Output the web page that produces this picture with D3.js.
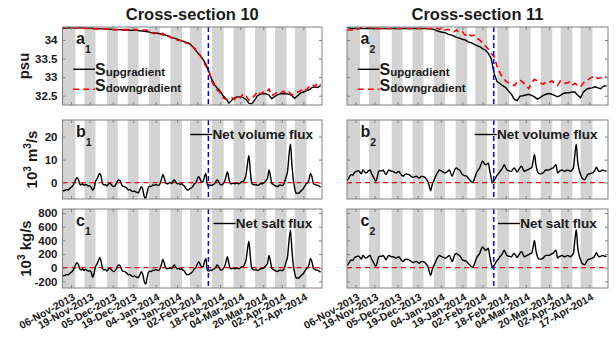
<!DOCTYPE html>
<meta charset="utf-8">
<title>Cross-section 10 / 11</title>
<body style="margin:0;background:#fff">
<svg width=616 height=347></svg>
<script src="https://d3js.org/d3.v7.min.js"></script>
<script>
    // ---------------- data (time axis starts 31-Oct-2013) ----------------
    const startDay = "2013-10-31 00:00";
    const endDay = "2014-04-30 00:00";
    const eventDay = "2014-02-09 18:00";

    const tickDays = ["2013-11-06", "2013-11-19", "2013-12-05", "2013-12-19", "2014-01-04", "2014-01-19",
        "2014-02-02", "2014-02-18", "2014-03-04", "2014-03-20", "2014-04-02", "2014-04-17"];

    // grey shading (spring tides)
    const bandStart = ["2013-10-31 00:00", "2013-11-15 08:00", "2013-12-01 00:00", "2013-12-15 12:00",
        "2013-12-30 08:00", "2014-01-14 08:00", "2014-01-28 00:00", "2014-02-12 08:00", "2014-02-27 08:00",
        "2014-03-14 08:00", "2014-03-28 05:00", "2014-04-11 00:00"];
    const bandEnd = ["2013-11-09 00:00", "2013-11-23 00:00", "2013-12-08 14:00", "2013-12-23 00:00",
        "2014-01-07 00:00", "2014-01-22 08:00", "2014-02-05 05:00", "2014-02-20 10:00", "2014-03-07 10:00",
        "2014-03-22 08:00", "2014-04-05 08:00", "2014-04-19 05:00"];

    const salTicks = [32.5, 33, 33.5, 34];
    const volTicks = [0, 10, 20];
    const saltTicks = [-200, 0, 200, 400, 600, 800];

    // salinity, one value every 2 days (psu)
    const sUp10 = [34.31,34.32,34.33,34.33,34.33,34.33,34.33,34.33,34.32,34.32,
        34.32,34.31,34.31,34.30,34.30,34.30,34.29,34.29,34.28,34.28,
        34.28,34.27,34.27,34.27,34.26,34.26,34.26,34.25,34.24,34.23,
        34.22,34.20,34.19,34.18,34.17,34.14,34.13,34.10,34.07,34.05,
        34.02,33.99,33.97,33.94,33.92,33.85,33.77,33.67,33.58,33.48,
        33.35,33.15,32.95,32.80,32.70,32.62,32.50,32.42,32.30,32.38,
        32.44,32.47,32.47,32.45,32.40,32.30,32.28,32.38,32.50,32.54,
        32.56,32.55,32.52,32.42,32.48,32.52,32.55,32.56,32.55,32.54,
        32.50,32.43,32.50,32.57,32.60,32.63,32.66,32.72,32.74,32.72,
        32.77];
    const sDown10 = [34.33,34.34,34.34,34.33,34.33,34.32,34.32,34.32,34.31,34.31,
        34.31,34.30,34.30,34.30,34.30,34.29,34.29,34.28,34.28,34.28,
        34.28,34.28,34.28,34.28,34.28,34.28,34.28,34.27,34.27,34.27,
        34.25,34.20,34.17,34.20,34.13,34.18,34.10,34.12,34.05,34.08,
        34.00,33.98,34.02,33.92,33.90,33.82,33.78,33.65,33.60,33.45,
        33.30,33.20,32.90,32.75,32.65,32.58,32.45,32.40,32.42,32.45,
        32.40,32.50,32.45,32.55,32.50,32.38,32.45,32.50,32.62,32.55,
        32.60,32.58,32.68,32.50,32.55,32.60,32.58,32.62,32.55,32.60,
        32.52,32.55,32.60,32.63,32.70,32.65,32.75,32.80,32.75,32.85,
        32.80];
    const sUp11 = [34.35,34.32,34.31,34.31,34.31,34.31,34.31,34.31,34.31,34.31,
        34.31,34.31,34.31,34.31,34.31,34.31,34.31,34.31,34.31,34.31,
        34.31,34.31,34.31,34.31,34.31,34.31,34.31,34.31,34.30,34.30,
        34.29,34.25,34.23,34.21,34.20,34.16,34.14,34.11,34.07,34.05,
        34.02,34.00,33.95,33.93,33.89,33.85,33.82,33.77,33.73,33.64,
        33.50,33.10,32.88,32.83,32.77,32.72,32.63,32.54,32.40,32.37,
        32.49,32.50,32.52,32.54,32.51,32.47,32.41,32.45,32.51,32.54,
        32.56,32.54,32.51,32.47,32.51,32.56,32.58,32.58,32.60,32.60,
        32.51,32.45,32.60,32.67,32.70,32.71,32.74,32.71,32.69,32.76,
        32.77];
    const sDown11 = [34.27,34.27,34.27,34.27,34.30,34.35,34.35,34.35,34.33,34.31,
        34.31,34.31,34.31,34.31,34.31,34.31,34.31,34.31,34.31,34.31,
        34.31,34.31,34.31,34.31,34.31,34.31,34.31,34.31,34.31,34.31,
        34.31,34.32,34.29,34.34,34.27,34.29,34.25,34.22,34.27,34.20,
        34.22,34.13,34.18,34.11,34.13,34.05,34.00,33.91,33.84,33.75,
        33.64,33.55,33.30,33.12,32.99,32.90,32.85,32.81,32.77,32.87,
        32.92,32.86,32.78,32.69,32.85,32.94,32.90,32.85,32.81,32.87,
        32.85,32.90,32.83,32.78,32.90,32.86,32.83,32.87,32.78,32.83,
        32.78,32.74,32.85,32.90,32.96,33.00,33.03,32.96,32.99,33.03,
        32.99];

    // net volume flux, daily (10^3 m^3/s)
    const vol10 = [-3.6,-3.5,-3.3,-3.0,-3.2,-2.5,-2.0,-1.5,-0.5,1.0,
        2.2,1.5,-0.5,-1.0,-0.5,-1.2,-0.8,-1.0,-1.5,-1.3,
        -2.0,-3.2,-2.5,0.5,1.5,3.0,4.0,2.5,-0.5,-1.0,
        -0.8,-1.5,-0.6,-0.3,-0.8,-1.5,-1.7,-1.0,0.2,1.2,
        1.0,-0.5,-1.5,-1.7,-2.0,-2.5,-3.2,-3.0,-3.5,-3.9,
        -3.6,-4.0,-4.2,-4.4,-3.0,-1.8,-3.0,-6.0,-6.8,-4.5,
        -2.0,-1.5,-1.7,-1.0,-1.2,-0.8,-1.0,-1.2,-0.5,1.5,
        3.6,2.0,-0.2,-0.5,-0.3,0.2,-0.5,0.5,1.2,0.3,
        -0.5,-0.3,-0.8,-0.5,-1.0,-1.5,-2.5,-3.2,-3.0,-2.5,
        -2.2,-1.5,-0.5,0.0,1.5,2.6,1.5,0.4,0.5,2.5,
        4.0,-1.0,-1.5,-1.0,-1.2,-0.8,-0.5,0.5,1.2,0.3,
        -0.8,-1.0,-0.5,0.5,2.5,4.8,2.0,-0.3,-0.5,-0.2,
        -0.5,-0.3,-0.3,-0.5,-0.1,0.4,0.5,1.5,3.3,8.0,
        11.7,5.0,-0.3,-0.8,-1.0,-0.8,-1.2,-1.0,-0.5,-0.5,
        -0.3,0.3,1.0,1.9,5.5,3.0,-0.3,-0.8,-1.2,-1.5,
        -1.7,-1.2,-1.0,-1.3,-1.0,0.5,2.5,5.0,12.0,16.7,
        8.0,1.2,-2.5,-4.6,-4.5,-4.6,-3.8,-3.2,-2.5,-1.5,
        -0.5,0.0,1.5,4.0,2.5,-0.3,-0.8,-1.0,-1.2,-1.5,
        -2.0];
    const vol11 = [0.9,1.8,2.8,3.5,3.2,4.2,4.8,5.0,5.2,4.5,
        3.8,5.5,4.8,4.2,4.5,5.2,5.5,4.0,2.8,1.5,
        0.6,2.5,4.9,5.2,5.0,5.5,4.5,3.5,4.5,5.5,
        5.2,4.9,4.9,4.5,4.2,4.6,4.9,4.0,3.2,2.8,
        3.5,3.8,3.6,3.5,3.0,2.5,2.3,2.6,2.8,2.4,
        2.0,2.5,2.8,2.5,2.3,1.5,0.6,-1.5,-3.5,-1.0,
        0.6,2.0,3.5,4.5,5.5,5.2,4.9,4.5,4.2,4.5,
        5.0,5.5,4.0,2.8,4.5,6.0,6.4,5.8,5.5,4.5,
        3.5,3.2,3.0,2.8,2.0,1.3,0.6,0.1,1.0,2.8,
        4.5,5.5,6.4,8.0,9.3,8.5,7.8,8.0,8.6,5.0,
        2.0,-0.1,1.0,2.0,3.2,3.8,4.8,5.5,6.5,7.8,
        6.5,5.5,5.2,5.0,4.9,5.8,6.4,5.5,4.6,5.5,
        6.5,7.1,6.0,4.9,5.2,5.5,5.8,6.2,6.4,9.0,
        12.2,7.8,5.0,4.0,3.8,4.0,4.2,5.0,5.5,5.5,
        5.5,5.8,6.2,6.4,7.2,7.8,4.2,4.8,5.2,5.5,
        5.2,4.9,5.2,5.5,5.2,4.9,5.5,6.4,12.0,16.7,
        9.0,5.5,3.5,2.0,1.5,1.3,2.5,3.5,3.8,4.0,
        4.2,4.5,5.5,6.7,5.5,4.9,5.0,5.5,5.3,5.0,
        5.2];

    // net salt flux, daily (10^3 kg/s)
    const salt10 = [-120,-115,-110,-100,-105,-85,-65,-50,-15,35,
        75,50,-15,-35,-15,-40,-25,-35,-50,-45,
        -65,-140,-85,15,50,100,150,85,-15,-35,
        -25,-50,-20,-10,-25,-50,-55,-35,5,40,
        35,-15,-50,-55,-65,-85,-105,-100,-115,-130,
        -120,-130,-140,-145,-100,-60,-100,-200,-240,-150,
        -65,-50,-55,-35,-40,-25,-35,-40,-15,50,
        120,65,-5,-15,-10,5,-15,15,40,10,
        -15,-10,-25,-15,-35,-50,-85,-105,-100,-85,
        -75,-50,-15,0,50,85,50,15,15,85,
        135,-35,-50,-35,-40,-25,-15,15,40,10,
        -25,-35,-15,15,85,160,65,-10,-15,-5,
        -15,-10,-10,-15,-5,15,15,50,110,265,
        385,165,-10,-25,-35,-25,-40,-35,-15,-15,
        -10,10,35,65,180,100,-10,-25,-40,-50,
        -55,-40,-35,-45,-35,15,85,165,395,550,
        265,40,-85,-150,-150,-150,-125,-105,-85,-50,
        -15,0,50,135,85,-10,-25,-35,-40,-50,
        -65];
    const salt11 = [30,60,90,115,105,140,160,165,170,150,
        125,180,160,140,150,170,180,130,90,50,
        20,85,160,170,165,180,150,115,150,180,
        170,160,160,150,140,150,160,130,105,90,
        115,125,120,115,100,85,75,85,90,80,
        65,85,90,85,75,50,20,-50,-115,-35,
        20,65,115,150,180,170,160,150,140,150,
        165,180,130,90,150,200,210,190,180,150,
        115,105,100,90,65,45,20,5,35,90,
        150,180,210,265,305,280,255,265,285,165,
        65,-5,35,65,105,125,160,180,215,255,
        215,180,170,165,160,190,210,180,150,180,
        215,235,200,160,170,180,190,205,210,295,
        400,255,165,130,125,130,140,165,180,180,
        180,190,205,210,240,255,140,160,170,180,
        170,160,170,180,170,160,180,210,395,555,
        295,180,115,65,50,45,85,115,125,130,
        140,150,180,220,180,160,165,180,175,165,
        170];

    // ---------------- layout ----------------
    const svg = d3.select('svg');
    const parseT = d3.timeParse('%Y-%m-%d %H:%M');
    const parseD = d3.timeParse('%Y-%m-%d');
    const t0 = parseT(startDay), t1 = parseT(endDay);
    const tEvent = parseT(eventDay);
    const ticks = tickDays.map(parseD);
    const bands = bandStart.map((s, i) => [parseT(s), parseT(bandEnd[i])]);
    const fmtDate = d3.timeFormat('%d-%b-%Y');

    const series = (vals, step) => vals.map((v, i) => ({t: d3.timeDay.offset(t0, i * step), v: v}));

    const cols = [
        {x0: 62.5, x1: 322, title: 'Cross-section 10', n: '1',
            up: series(sUp10, 2), down: series(sDown10, 2), vol: series(vol10, 1), salt: series(salt10, 1)},
        {x0: 347, x1: 608, title: 'Cross-section 11', n: '2',
            up: series(sUp11, 2), down: series(sDown11, 2), vol: series(vol11, 1), salt: series(salt11, 1)}
    ];
    const rows = [
        {key: 'a', y0: 27, y1: 105, domain: [32.25, 34.35], ticks: salTicks, lx: 29},
        {key: 'b', y0: 120, y1: 199, domain: [-7.1, 27.2], ticks: volTicks, lx: 36.5},
        {key: 'c', y0: 209, y1: 288, domain: [-297, 859], ticks: saltTicks, lx: 30.5}
    ];

    const noDomain = g => g.select('.domain').remove();

    cols.forEach((c, ci) => {
        const x = d3.scaleTime().domain([t0, t1]).range([c.x0, c.x1]);

        svg.append('text')
            .attr('x', (c.x0 + c.x1) / 2).attr('y', 20)
            .attr('text-anchor', 'middle')
            .style('font-size', '16.5px')
            .text(c.title);

        rows.forEach((r, ri) => {
            const y = d3.scaleLinear().domain(r.domain).range([r.y1, r.y0]);
            const g = svg.append('g');
            const clipId = 'clip' + ci + ri;

            g.append('clipPath').attr('id', clipId)
                .append('rect')
                .attr('x', c.x0).attr('y', r.y0)
                .attr('width', c.x1 - c.x0).attr('height', r.y1 - r.y0);

            const inner = g.append('g').attr('clip-path', `url(#${clipId})`);

            inner.selectAll('.band').data(bands).join('rect')
                .attr('class', 'band')
                .attr('x', d => x(d[0])).attr('width', d => x(d[1]) - x(d[0]))
                .attr('y', r.y0).attr('height', r.y1 - r.y0);

            const line = d3.line().x(d => x(d.t)).y(d => y(d.v));

            if (r.key === 'a') {
                inner.append('path').datum(c.up).attr('class', 'up').attr('d', line);
                inner.append('path').datum(c.down).attr('class', 'down').attr('d', line);
            } else {
                inner.append('line').attr('class', 'zero')
                    .attr('x1', c.x0).attr('x2', c.x1)
                    .attr('y1', y(0)).attr('y2', y(0));
                const data = r.key === 'b' ? c.vol : c.salt;
                inner.append('path').datum(data).attr('class', 'flux')
                    .attr('d', line.curve(d3.curveMonotoneX));
            }

            inner.append('line').attr('class', 'event')
                .attr('x1', x(tEvent)).attr('x2', x(tEvent))
                .attr('y1', r.y0).attr('y2', r.y1);

            // axes: inward ticks on all four sides
            g.append('g').attr('class', 'ax').attr('transform', `translate(0,${r.y1})`)
                .call(d3.axisBottom(x).tickValues(ticks).tickSize(-3).tickFormat('')).call(noDomain);
            g.append('g').attr('class', 'ax').attr('transform', `translate(0,${r.y0})`)
                .call(d3.axisTop(x).tickValues(ticks).tickSize(-3).tickFormat('')).call(noDomain);
            const yl = g.append('g').attr('class', 'ax').attr('transform', `translate(${c.x0},0)`)
                .call(d3.axisLeft(y).tickValues(r.ticks).tickSize(-3).tickPadding(5)
                    .tickFormat(ci === 0 ? (d => String(d)) : '')).call(noDomain);
            yl.selectAll('text').attr('font-family', null).attr('font-size', null)
                .style('font-size', '11.5px');
            g.append('g').attr('class', 'ax').attr('transform', `translate(${c.x1},0)`)
                .call(d3.axisRight(y).tickValues(r.ticks).tickSize(-3).tickFormat('')).call(noDomain);

            g.append('rect').attr('class', 'frame')
                .attr('x', c.x0).attr('y', r.y0)
                .attr('width', c.x1 - c.x0).attr('height', r.y1 - r.y0);

            // panel letter
            const lab = g.append('text').attr('x', c.x0 + 13.5).attr('y', r.y0 + 17)
                .style('font-size', '16px').text(r.key);
            lab.append('tspan').attr('dy', 8.5).style('font-size', '10.5px').text(c.n);

            // legends
            if (r.key === 'a') {
                [['up', 'upgradient', 42.3, 47.5], ['down', 'downgradient', 62.3, 64]].forEach(e => {
                    g.append('line').attr('class', e[0])
                        .attr('x1', c.x0 + 10.7).attr('x2', c.x0 + 32.5)
                        .attr('y1', r.y0 + e[2]).attr('y2', r.y0 + e[2]);
                    const t = g.append('text').attr('x', c.x0 + 32.5).attr('y', r.y0 + e[3])
                        .style('font-size', '16px').text('S');
                    t.append('tspan').attr('dy', 1).style('font-size', '11.5px').text(e[1]);
                });
            } else {
                const lx = r.key === 'b' ? 127.7 : 151;
                g.append('line').attr('class', 'flux')
                    .attr('x1', c.x0 + lx).attr('x2', c.x0 + lx + 22)
                    .attr('y1', r.y0 + 14.5).attr('y2', r.y0 + 14.5);
                g.append('text').attr('x', c.x0 + lx + 22.3).attr('y', r.y0 + 19)
                    .style('font-size', '13.5px')
                    .text(r.key === 'b' ? 'Net volume flux' : 'Net salt flux');
            }

            // y labels
            if (ci === 0) {
                const cy = (r.y0 + r.y1) / 2;
                const t = g.append('text')
                    .attr('transform', `translate(${r.lx},${cy}) rotate(-90)`)
                    .attr('text-anchor', 'middle')
                    .style('font-size', '15px');
                if (r.key === 'a') {
                    t.text('psu');
                } else {
                    t.append('tspan').text('10');
                    t.append('tspan').attr('dy', -6).style('font-size', '10px').text('3');
                    t.append('tspan').attr('dy', 6).text(r.key === 'b' ? ' m' : ' kg/s');
                    if (r.key === 'b') {
                        t.append('tspan').attr('dy', -6).style('font-size', '10px').text('3');
                        t.append('tspan').attr('dy', 6).text('/s');
                    }
                }
            }

            // rotated date labels under the bottom row
            if (r.key === 'c') {
                g.selectAll('.xl').data(ticks).join('text')
                    .attr('class', 'xl')
                    .attr('transform', d => `translate(${x(d) + 3},${r.y1 + 8}) rotate(-29)`)
                    .attr('text-anchor', 'end')
                    .attr('dy', '0.35em')
                    .style('font-size', '10.5px')
                    .text(d => fmtDate(d));
            }
        });
    });
</script>
<style>
    svg text {
        font-family: "Liberation Sans", Arial, Helvetica, sans-serif;
        font-weight: bold;
        fill: #1a1a1a;
    }
    .band { fill: #d3d3d3; }
    .frame { fill: none; stroke: #808080; stroke-width: 1; }
    .ax line { stroke: #808080; }
    .up, .flux { fill: none; stroke: #000; stroke-width: 1.4; }
    .down { fill: none; stroke: #ff0000; stroke-width: 1.6; stroke-dasharray: 6, 4; }
    .zero { stroke: #ff0000; stroke-width: 1.3; stroke-dasharray: 5, 4; }
    .event { stroke: #0000ff; stroke-width: 1.5; stroke-dasharray: 5, 3; }
</style>
